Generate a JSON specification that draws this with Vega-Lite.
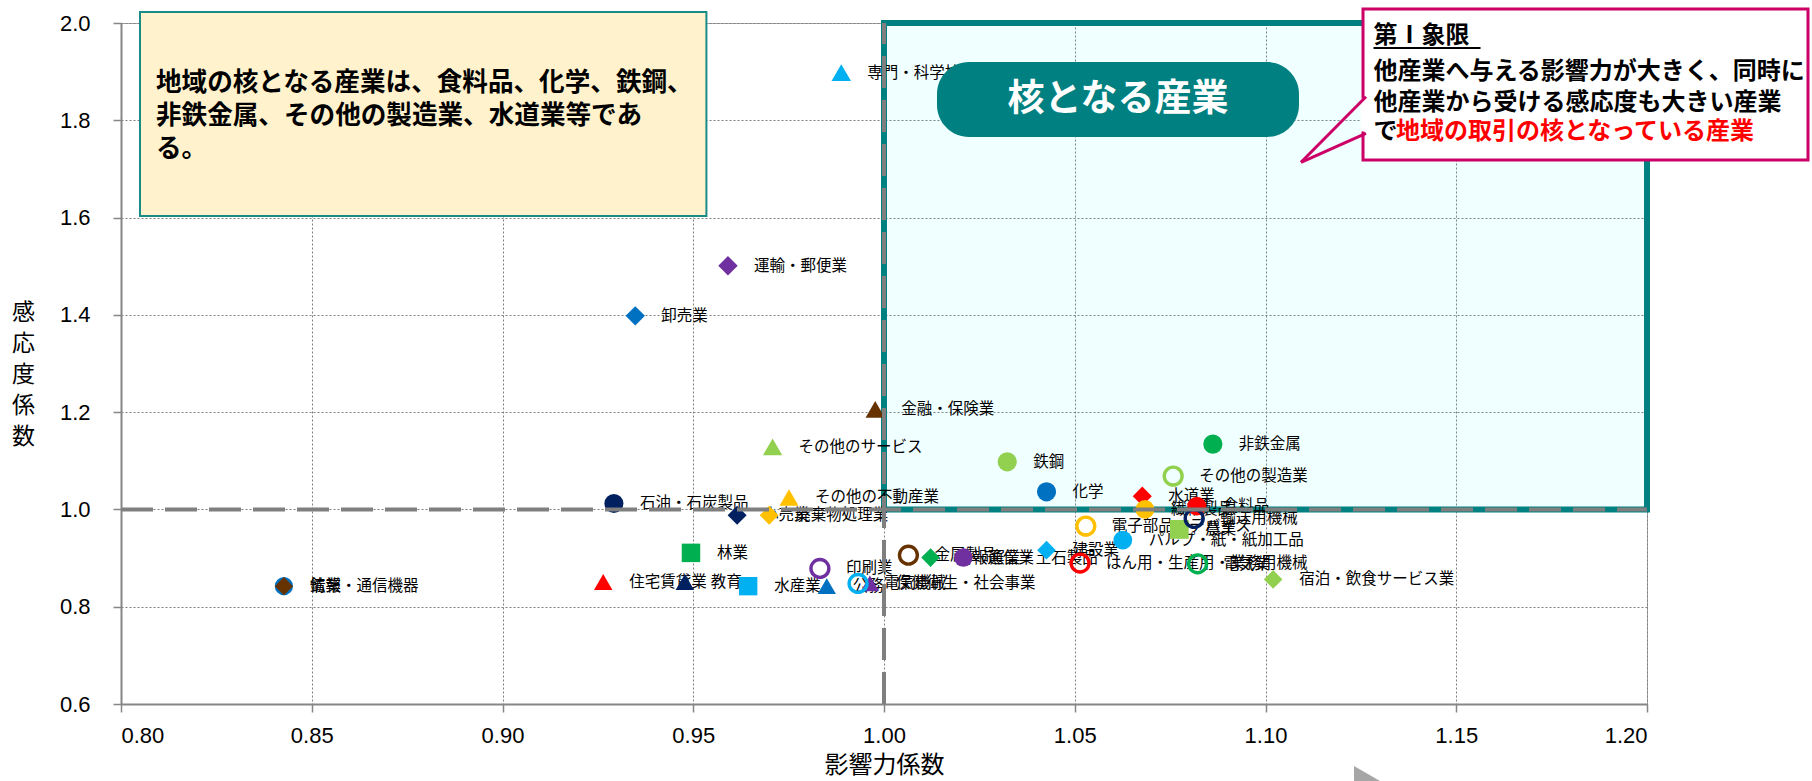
{
  "$schema": "https://vega.github.io/schema/vega-lite/v6.json",
  "width": 1526,
  "height": 681,
  "autosize": {"type": "none"},
  "padding": {"left": 121, "top": 23, "right": 165, "bottom": 77},
  "background": "white",
  "config": {
    "view": {"stroke": "#a6a6a6", "strokeWidth": 1},
    "axis": {
      "labelFont": "Liberation Sans",
      "labelFontSize": 22,
      "labelColor": "#000000",
      "domainColor": "#868686",
      "domainWidth": 2,
      "tickColor": "#868686",
      "tickSize": 8,
      "tickWidth": 1.5,
      "gridColor": "#7f7f7f",
      "gridDash": [2, 2],
      "gridWidth": 1,
      "titleFont": "Noto Sans CJK JP",
      "titleFontWeight": "normal",
      "titleColor": "#000000",
      "titleFontSize": 23
    }
  },
  "data": {
    "values": [
      {"産業": "専門・科学技術、業務支援サービス業", "影響力係数": 0.9888, "感応度係数": 1.898},
      {"産業": "運輸・郵便業", "影響力係数": 0.9591, "感応度係数": 1.501},
      {"産業": "卸売業", "影響力係数": 0.9348, "感応度係数": 1.398},
      {"産業": "金融・保険業", "影響力係数": 0.9977, "感応度係数": 1.2057},
      {"産業": "その他のサービス", "影響力係数": 0.9708, "感応度係数": 1.1288},
      {"産業": "鉄鋼", "影響力係数": 1.0323, "感応度係数": 1.098},
      {"産業": "非鉄金属", "影響力係数": 1.0862, "感応度係数": 1.1343},
      {"産業": "その他の製造業", "影響力係数": 1.0758, "感応度係数": 1.0685},
      {"産業": "化学", "影響力係数": 1.0426, "感応度係数": 1.0362},
      {"産業": "水道業", "影響力係数": 1.0677, "感応度係数": 1.0273},
      {"産業": "石油・石炭製品", "影響力係数": 0.9292, "感応度係数": 1.0123},
      {"産業": "その他の不動産業", "影響力係数": 0.9751, "感応度係数": 1.0247},
      {"産業": "小売業", "影響力係数": 0.9615, "感応度係数": 0.988},
      {"産業": "廃棄物処理業", "影響力係数": 0.9699, "感応度係数": 0.988},
      {"産業": "繊維製品", "影響力係数": 1.0684, "感応度係数": 1.0},
      {"産業": "食料品", "影響力係数": 1.082, "感応度係数": 1.0068},
      {"産業": "輸送用機械", "影響力係数": 1.0813, "感応度係数": 0.9815},
      {"産業": "農業", "影響力係数": 1.0774, "感応度係数": 0.9589},
      {"産業": "電子部品・デバイス", "影響力係数": 1.0529, "感応度係数": 0.9657},
      {"産業": "パルプ・紙・紙加工品", "影響力係数": 1.0626, "感応度係数": 0.9369},
      {"産業": "建設業", "影響力係数": 1.0426, "感応度係数": 0.9163},
      {"産業": "はん用・生産用・業務用機械", "影響力係数": 1.0514, "感応度係数": 0.8897},
      {"産業": "電気業", "影響力係数": 1.0822, "感応度係数": 0.8882},
      {"産業": "宿泊・飲食サービス業", "影響力係数": 1.102, "感応度係数": 0.8561},
      {"産業": "金属製品", "影響力係数": 1.0064, "感応度係数": 0.906},
      {"産業": "情報通信業", "影響力係数": 1.0122, "感応度係数": 0.901},
      {"産業": "窯業・土石製品", "影響力係数": 1.0208, "感応度係数": 0.901},
      {"産業": "林業", "影響力係数": 0.9494, "感応度係数": 0.9107},
      {"産業": "住宅賃貸業", "影響力係数": 0.9264, "感応度係数": 0.851},
      {"産業": "教育", "影響力係数": 0.9478, "感応度係数": 0.851},
      {"産業": "水産業", "影響力係数": 0.9644, "感応度係数": 0.8422},
      {"産業": "公務", "影響力係数": 0.985, "感応度係数": 0.8422},
      {"産業": "印刷業", "影響力係数": 0.9832, "感応度係数": 0.8787},
      {"産業": "電気機械", "影響力係数": 0.9932, "感応度係数": 0.8478},
      {"産業": "保健衛生・社会事業", "影響力係数": 0.9963, "感応度係数": 0.8478},
      {"産業": "情報・通信機器", "影響力係数": 0.8427, "感応度係数": 0.8423},
      {"産業": "鉱業", "影響力係数": 0.8427, "感応度係数": 0.8423}
    ]
  },
  "layer": [
    {
      "data": {"values": [{}]},
      "mark": {"type": "rect", "fill": "#00FFFF", "fillOpacity": 0.06, "stroke": "#008080", "strokeWidth": 6},
      "encoding": {
        "x": {"datum": 1.0, "type": "quantitative", "scale": {"domain": [0.8, 1.2], "nice": false, "zero": false},
          "axis": {"values": [0.8, 0.85, 0.9, 0.95, 1.0, 1.05, 1.1, 1.15, 1.2], "format": ".2f", "labelPadding": 13, "grid": true,
            "title": "影響力係数", "titleX": 763, "titleY": 61, "titleBaseline": "middle", "titleFontSize": 24}},
        "x2": {"datum": 1.2},
        "y": {"datum": 2.0, "type": "quantitative", "scale": {"domain": [0.6, 2.0], "nice": false, "zero": false},
          "axis": {"values": [0.6, 0.8, 1.0, 1.2, 1.4, 1.6, 1.8, 2.0], "format": ".1f", "labelPadding": 23, "grid": true,
            "title": ["感", "応", "度", "係", "数"], "titleAngle": 0, "titleX": -98, "titleY": 289,
            "titleAlign": "center", "titleBaseline": "middle", "titleLineHeight": 31}},
        "y2": {"datum": 1.0}
      }
    },
    {
      "mark": {"type": "text", "align": "left", "baseline": "middle", "dx": 26, "font": "Noto Sans CJK JP", "fontSize": 15.5, "color": "#000000"},
      "encoding": {
        "x": {"field": "影響力係数", "type": "quantitative", "title": "影響力係数"},
        "y": {"field": "感応度係数", "type": "quantitative", "title": ["感", "応", "度", "係", "数"]},
        "text": {"field": "産業"}
      }
    },
    {
      "transform": [{"filter": {"not": {"field": "産業", "oneOf": ["その他の製造業", "輸送用機械", "電子部品・デバイス", "はん用・生産用・業務用機械", "電気業", "金属製品", "印刷業", "電気機械"]}}}],
      "mark": {"type": "point", "filled": true, "opacity": 1},
      "encoding": {
        "x": {"field": "影響力係数", "type": "quantitative", "title": "影響力係数"},
        "y": {"field": "感応度係数", "type": "quantitative", "title": ["感", "応", "度", "係", "数"]},
        "color": {"field": "産業", "type": "nominal", "legend": null, "scale": {
          "domain": ["専門・科学技術、業務支援サービス業", "運輸・郵便業", "卸売業", "金融・保険業", "その他のサービス", "鉄鋼", "非鉄金属", "その他の製造業", "化学", "水道業", "石油・石炭製品", "その他の不動産業", "小売業", "廃棄物処理業", "繊維製品", "食料品", "輸送用機械", "農業", "電子部品・デバイス", "パルプ・紙・紙加工品", "建設業", "はん用・生産用・業務用機械", "電気業", "宿泊・飲食サービス業", "金属製品", "情報通信業", "窯業・土石製品", "林業", "住宅賃貸業", "教育", "水産業", "公務", "印刷業", "電気機械", "保健衛生・社会事業", "情報・通信機器", "鉱業"],
          "range": ["#00B0F0", "#7030A0", "#0070C0", "#663300", "#92D050", "#92D050", "#00B050", "#92D050", "#0070C0", "#FF0000", "#002060", "#FFC000", "#002060", "#FFC000", "#FFC000", "#FF0000", "#002060", "#92D050", "#FFC000", "#00B0F0", "#00B0F0", "#FF0000", "#00B050", "#92D050", "#663300", "#00B050", "#7030A0", "#00B050", "#FF0000", "#002060", "#00B0F0", "#0070C0", "#7030A0", "#00B0F0", "#7030A0", "#0070C0", "#663300"]
        }},
        "shape": {"field": "産業", "type": "nominal", "legend": null, "scale": {
          "domain": ["専門・科学技術、業務支援サービス業", "運輸・郵便業", "卸売業", "金融・保険業", "その他のサービス", "鉄鋼", "非鉄金属", "化学", "水道業", "石油・石炭製品", "その他の不動産業", "小売業", "廃棄物処理業", "繊維製品", "食料品", "農業", "パルプ・紙・紙加工品", "建設業", "宿泊・飲食サービス業", "情報通信業", "窯業・土石製品", "林業", "住宅賃貸業", "教育", "水産業", "公務", "保健衛生・社会事業", "情報・通信機器", "鉱業"],
          "range": ["triangle-up", "diamond", "diamond", "triangle-up", "triangle-up", "circle", "circle", "circle", "diamond", "circle", "triangle-up", "diamond", "diamond", "circle", "circle", "square", "circle", "diamond", "diamond", "diamond", "circle", "square", "triangle-up", "triangle-up", "square", "triangle-up", "triangle-up", "circle", "diamond"]
        }},
        "size": {"field": "産業", "type": "nominal", "legend": null, "scale": {
          "domain": ["専門・科学技術、業務支援サービス業", "運輸・郵便業", "卸売業", "金融・保険業", "その他のサービス", "鉄鋼", "非鉄金属", "化学", "水道業", "石油・石炭製品", "その他の不動産業", "小売業", "廃棄物処理業", "繊維製品", "食料品", "農業", "パルプ・紙・紙加工品", "建設業", "宿泊・飲食サービス業", "情報通信業", "窯業・土石製品", "林業", "住宅賃貸業", "教育", "水産業", "公務", "保健衛生・社会事業", "情報・通信機器", "鉱業"],
          "range": [380, 330, 330, 380, 380, 330, 330, 330, 330, 330, 380, 330, 300, 330, 330, 420, 330, 330, 330, 330, 330, 420, 380, 380, 420, 380, 380, 470, 300]
        }}
      }
    },
    {
      "transform": [{"filter": {"field": "産業", "oneOf": ["その他の製造業", "輸送用機械", "電子部品・デバイス", "はん用・生産用・業務用機械", "電気業", "金属製品", "印刷業", "電気機械"]}}],
      "mark": {"type": "point", "filled": false, "shape": "circle", "size": 320, "strokeWidth": 3.4, "opacity": 1},
      "encoding": {
        "x": {"field": "影響力係数", "type": "quantitative", "title": "影響力係数"},
        "y": {"field": "感応度係数", "type": "quantitative", "title": ["感", "応", "度", "係", "数"]},
        "color": {"field": "産業", "type": "nominal", "legend": null}
      }
    },
    {
      "data": {"values": [{}]},
      "mark": {"type": "rule", "color": "#7f7f7f", "strokeWidth": 4, "strokeDash": [32, 12]},
      "encoding": {"x": {"datum": 0.8}, "x2": {"datum": 1.2}, "y": {"datum": 1.0}}
    },
    {
      "data": {"values": [{}]},
      "mark": {"type": "rule", "color": "#7f7f7f", "strokeWidth": 4, "strokeDash": [32, 12]},
      "encoding": {"x": {"datum": 1.0}, "y": {"datum": 0.6}, "y2": {"datum": 2.0}}
    },
    {
      "data": {"values": [{}]},
      "mark": {"type": "rect", "fill": "#FFF2CC", "stroke": "#1A8C87", "strokeWidth": 2},
      "encoding": {"x": {"datum": 0.80498}, "x2": {"datum": 0.95345}, "y": {"datum": 2.02261}, "y2": {"datum": 1.60323}}
    },
    {
      "data": {"values": [{}]},
      "mark": {"type": "text", "text": ["地域の核となる産業は、食料品、化学、鉄鋼、", "非鉄金属、その他の製造業、水道業等であ", "る。"], "align": "left", "baseline": "middle", "lineHeight": 33, "font": "Noto Sans CJK JP", "fontSize": 25.6, "fontWeight": "bold", "color": "#000000"},
      "encoding": {"x": {"datum": 0.80917}, "y": {"datum": 1.87665}}
    },
    {
      "data": {"values": [{}]},
      "mark": {"type": "rect", "fill": "#008080", "cornerRadius": 32},
      "encoding": {"x": {"datum": 1.01389}, "x2": {"datum": 1.10878}, "y": {"datum": 1.91982}, "y2": {"datum": 1.76564}}
    },
    {
      "data": {"values": [{}]},
      "mark": {"type": "text", "text": "核となる産業", "align": "center", "baseline": "middle", "font": "Noto Sans CJK JP", "fontSize": 37, "fontWeight": "bold", "color": "#FFFFFF"},
      "encoding": {"x": {"datum": 1.06134}, "y": {"datum": 1.8417}}
    },
    {
      "data": {"values": [{}]},
      "mark": {"type": "rect", "fill": "#FFFFFF", "stroke": "#CC0066", "strokeWidth": 3},
      "encoding": {"x": {"datum": 1.12556}, "x2": {"datum": 1.2422}, "y": {"datum": 2.02878}, "y2": {"datum": 1.71836}}
    },
    {
      "data": {"values": [{}]},
      "mark": {"type": "rule", "color": "#FFFFFF", "strokeWidth": 5},
      "encoding": {"x": {"datum": 1.12556}, "y": {"datum": 1.84479}, "y2": {"datum": 1.77695}}
    },
    {
      "data": {"values": [{}]},
      "mark": {"type": "rule", "color": "#CC0066", "strokeWidth": 3},
      "encoding": {"x": {"datum": 1.12634}, "y": {"datum": 1.84849}, "x2": {"datum": 1.10931}, "y2": {"datum": 1.71362}}
    },
    {
      "data": {"values": [{}]},
      "mark": {"type": "rule", "color": "#CC0066", "strokeWidth": 3},
      "encoding": {"x": {"datum": 1.10931}, "y": {"datum": 1.71362}, "x2": {"datum": 1.12634}, "y2": {"datum": 1.77325}}
    },
    {
      "data": {"values": [{}]},
      "mark": {"type": "text", "text": "第Ⅰ象限", "align": "left", "baseline": "middle", "font": "Noto Sans CJK JP", "fontSize": 24, "fontWeight": "bold", "color": "#000000"},
      "encoding": {"x": {"datum": 1.12831}, "y": {"datum": 1.97369}}
    },
    {
      "data": {"values": [{}]},
      "mark": {"type": "rule", "color": "#000000", "strokeWidth": 2},
      "encoding": {"x": {"datum": 1.12831}, "x2": {"datum": 1.15636}, "y": {"datum": 1.9486}}
    },
    {
      "data": {"values": [{}]},
      "mark": {"type": "text", "text": "他産業へ与える影響力が大きく、同時に", "align": "left", "baseline": "middle", "font": "Noto Sans CJK JP", "fontSize": 24, "fontWeight": "bold", "color": "#000000"},
      "encoding": {"x": {"datum": 1.12831}, "y": {"datum": 1.90009}}
    },
    {
      "data": {"values": [{}]},
      "mark": {"type": "text", "text": "他産業から受ける感応度も大きい産業", "align": "left", "baseline": "middle", "font": "Noto Sans CJK JP", "fontSize": 24, "fontWeight": "bold", "color": "#000000"},
      "encoding": {"x": {"datum": 1.12831}, "y": {"datum": 1.83595}}
    },
    {
      "data": {"values": [{}]},
      "mark": {"type": "text", "text": "で", "align": "left", "baseline": "middle", "font": "Noto Sans CJK JP", "fontSize": 24, "fontWeight": "bold", "color": "#000000"},
      "encoding": {"x": {"datum": 1.12831}, "y": {"datum": 1.77653}}
    },
    {
      "data": {"values": [{}]},
      "mark": {"type": "text", "text": "地域の取引の核となっている産業", "align": "left", "baseline": "middle", "font": "Noto Sans CJK JP", "fontSize": 24, "fontWeight": "bold", "color": "#FF0000"},
      "encoding": {"x": {"datum": 1.1342}, "y": {"datum": 1.77653}}
    },
    {
      "data": {"values": [{}]},
      "mark": {"type": "point", "shape": "triangle-right", "filled": true, "size": 3600, "color": "#A6A6A6", "opacity": 1},
      "encoding": {"x": {"datum": 1.13001}, "y": {"datum": 0.41088}}
    }
  ]
}
